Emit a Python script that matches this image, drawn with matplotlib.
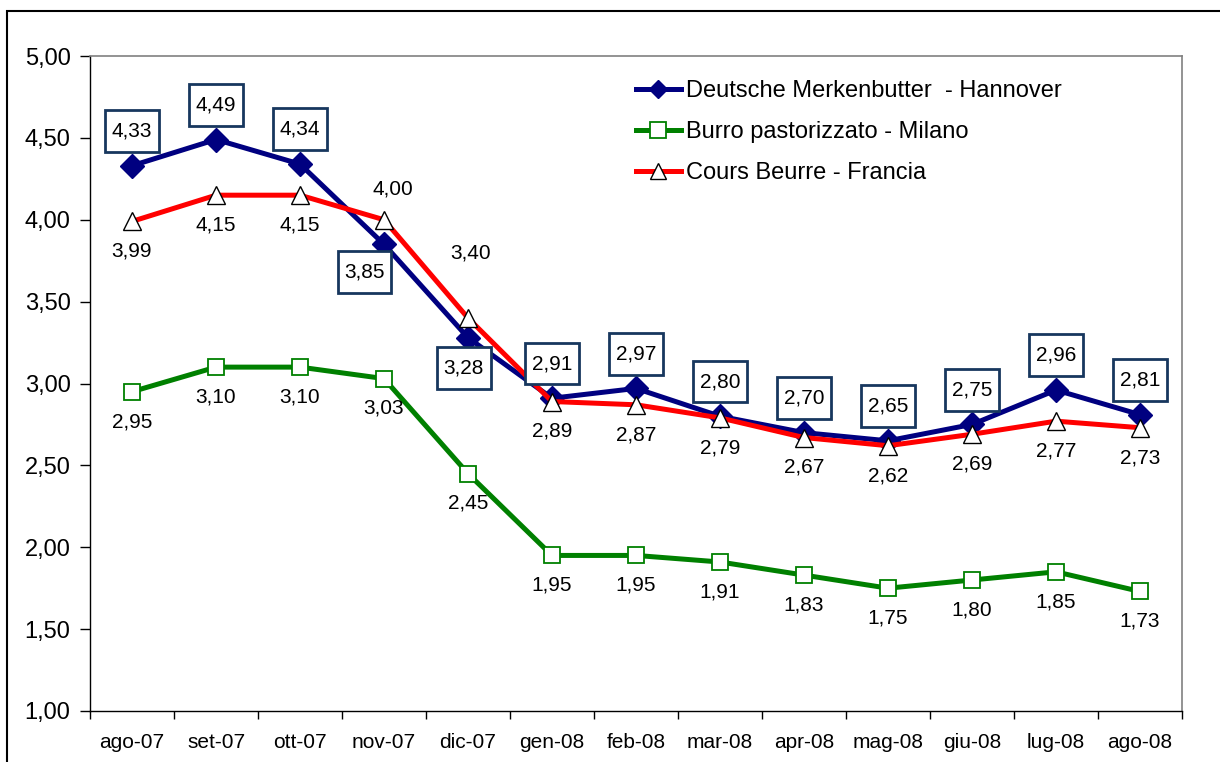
import matplotlib
matplotlib.use("Agg")
import matplotlib.pyplot as plt
from matplotlib.patches import Rectangle
from matplotlib.lines import Line2D
from matplotlib.path import Path

plt.rcParams['font.family'] = ['Liberation Sans', 'DejaVu Sans']

months = ["ago-07", "set-07", "ott-07", "nov-07", "dic-07", "gen-08", "feb-08",
          "mar-08", "apr-08", "mag-08", "giu-08", "lug-08", "ago-08"]
hannover = [4.33, 4.49, 4.34, 3.85, 3.28, 2.91, 2.97, 2.80, 2.70, 2.65, 2.75, 2.96, 2.81]
milano = [2.95, 3.10, 3.10, 3.03, 2.45, 1.95, 1.95, 1.91, 1.83, 1.75, 1.80, 1.85, 1.73]
francia = [3.99, 4.15, 4.15, 4.00, 3.40, 2.89, 2.87, 2.79, 2.67, 2.62, 2.69, 2.77, 2.73]
series_names = ["Deutsche Merkenbutter  - Hannover", "Burro pastorizzato - Milano",
                "Cours Beurre - Francia"]
yticks = [1.0, 1.5, 2.0, 2.5, 3.0, 3.5, 4.0, 4.5, 5.0]

W, H = 1220, 762
fig = plt.figure(figsize=(W / 100, H / 100), dpi=100)
ax = fig.add_axes([90 / W, (H - 711) / H, 1092 / W, 655 / H])

x = list(range(len(months)))
BLUE = "#000080"
GREEN = "#008000"
RED = "#FF0000"
BOXEDGE = "#17375E"

ax.plot(x, hannover, color=BLUE, lw=3.6, marker="D", ms=12, mfc=BLUE, mec=BLUE, zorder=4)
ax.plot(x, milano, color=GREEN, lw=3.6, marker="s", ms=12, mfc="white", mec=GREEN, mew=1.3, zorder=3)
ax.plot(x, francia, color=RED, lw=3.6, marker="^", ms=13, mfc="white", mec="black", mew=1.0, zorder=5)

ax.set_xlim(-0.5, len(months) - 0.5)
ax.set_ylim(1.0, 5.0)
ax.set_yticks(yticks)
ax.set_yticklabels([f"{v:.2f}".replace(".", ",") for v in yticks], fontsize=17)
ax.set_xticks(x)
ax.set_xticklabels(months, fontsize=15)
ax.set_xticks([i - 0.5 for i in range(len(months) + 1)], minor=True)
ax.tick_params(axis="x", which="major", length=0, pad=16)
ax.tick_params(axis="x", which="minor", length=6, width=1, direction="out")
ax.tick_params(axis="y", length=7, width=1, direction="out", pad=7)

for s in ["left", "bottom"]:
    ax.spines[s].set_color("black")
    ax.spines[s].set_linewidth(1)
for s in ["top", "right"]:
    ax.spines[s].set_color("#808080")
    ax.spines[s].set_linewidth(1.2)

def fmt(v):
    return f"{v:.2f}".replace(".", ",")

def tall_box(x0, y0, width, height, mutation_size):
    px = 0.32 * mutation_size
    py = 0.55 * mutation_size
    x0, y0 = x0 - px, y0 - py
    x1, y1 = x0 + width + 2 * px, y0 + height + 2 * py
    return Path([(x0, y0), (x1, y0), (x1, y1), (x0, y1), (x0, y0)], closed=True)

# Hannover boxed labels
for i, v in enumerate(hannover):
    if i == 3:
        off = (-14, -20)
    elif i == 4:
        off = (-3, -22)
    else:
        off = (0, 25)
    ax.annotate(fmt(v), (i, v), xytext=off, textcoords="offset points",
                ha="center", va="center", fontsize=15, zorder=6,
                bbox=dict(boxstyle=tall_box, fc="white", ec=BOXEDGE, lw=2.0))

# Francia labels
for i, v in enumerate(francia):
    if i == 3:
        off = (6.5, 22)
    elif i == 4:
        off = (1.5, 47)
    else:
        off = (0, -21.5)
    ax.annotate(fmt(v), (i, v), xytext=off, textcoords="offset points",
                ha="center", va="center", fontsize=15, zorder=6)

# Milano labels
for i, v in enumerate(milano):
    ax.annotate(fmt(v), (i, v), xytext=(0, -21.5), textcoords="offset points",
                ha="center", va="center", fontsize=15, zorder=6)

handles = [
    Line2D([], [], color=BLUE, lw=3.6, marker="D", ms=9, mfc=BLUE, mec=BLUE),
    Line2D([], [], color=GREEN, lw=3.6, marker="s", ms=11, mfc="white", mec=GREEN, mew=1.3),
    Line2D([], [], color=RED, lw=3.6, marker="^", ms=12, mfc="white", mec="black", mew=1.0),
]
fig.legend(handles, series_names, loc="upper left", bbox_to_anchor=(636 / W, 1 - 80 / H),
           frameon=False, fontsize=17, handlelength=1.9, handletextpad=0.2,
           labelspacing=0.8, borderpad=0, borderaxespad=0)

fig.add_artist(Rectangle((7 / W, -0.05), 1.1, 1.05 - 11 / H, transform=fig.transFigure,
                         fill=False, ec="black", lw=1.5, clip_on=False))

fig.savefig("out.png", dpi=100, facecolor="white")
